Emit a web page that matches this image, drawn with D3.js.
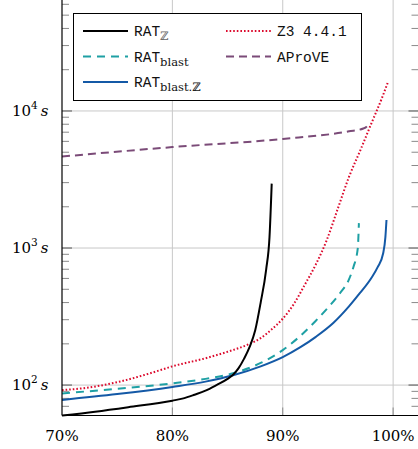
<!DOCTYPE html>
<html>
<head>
<meta charset="utf-8">
<script src="https://cdn.jsdelivr.net/npm/d3@7"></script>
<style>
  body { margin: 0; background: #fff; }
  svg { display: block; }
  .serif { font-family: "DejaVu Serif", "Liberation Serif", serif; }
  .mono { font-family: "Liberation Mono", "DejaVu Sans Mono", monospace; }
</style>
</head>
<body>
<svg width="418" height="449"></svg>
<script>
// data: solved share (%) vs. time (s)
const ratZ_x = [70, 73, 76, 80, 81, 82, 83, 84, 85, 85.5, 86, 86.5, 87, 87.5, 88, 88.5, 88.8, 89.0];
const ratZ_y = [60, 64, 69, 77, 80, 85, 91, 100, 111, 119, 133, 156, 190, 250, 400, 700, 1200, 2950];

const blast_x = [70, 75, 80, 83, 85.5, 88, 90, 91.5, 93, 94, 95.2, 96, 96.4, 96.8, 96.9];
const blast_y = [87, 94, 103, 111, 122, 145, 180, 225, 295, 360, 470, 590, 725, 1000, 1520];

const blastZ_x = [70, 75, 80, 83, 85.5, 88, 90, 91.6, 93, 94.6, 96, 97, 98, 98.6, 99.1, 99.3, 99.4];
const blastZ_y = [78, 86, 97, 106, 118, 137, 160, 189, 225, 285, 375, 470, 600, 725, 915, 1200, 1600];

const z3_x = [70, 72, 75, 78, 80, 83, 85, 87, 88, 89, 90, 91, 92, 93, 94, 95, 96, 97, 98, 99, 99.5];
const z3_y = [92, 95, 105, 122, 137, 157, 175, 200, 220, 255, 305, 390, 540, 760, 1150, 1950, 3300, 5100, 8000, 12500, 16000];

const aprove_x = [70, 80, 90, 96, 97.3, 97.6, 97.8];
const aprove_y = [4650, 5450, 6250, 7100, 7450, 7700, 8200];

const xTicks = [70, 80, 90, 100];
const yTicks = [100, 1000, 10000];

const svg = d3.select("svg");
const pLeft = 62, pRight = 418.5, pTop = 0, pBottom = 415.5;

const x = d3.scaleLinear().domain([70, 102.3]).range([pLeft, pRight]);
const y = d3.scaleLog().domain([60, 64500]).range([pBottom, pTop]);

// grid
svg.append("g").selectAll("line").data(xTicks.slice(1))
  .join("line")
  .attr("x1", d => x(d)).attr("x2", d => x(d))
  .attr("y1", pTop).attr("y2", pBottom)
  .attr("stroke", "#c8c8c8").attr("stroke-width", 1);
svg.append("g").selectAll("line").data(yTicks)
  .join("line")
  .attr("x1", pLeft).attr("x2", pRight)
  .attr("y1", d => y(d)).attr("y2", d => y(d))
  .attr("stroke", "#c8c8c8").attr("stroke-width", 1);

// minor ticks on log axis (left and right, pointing inward)
const minor = [];
for (let e = 1; e <= 4; e++) {
  for (let m = 2; m <= 9; m++) {
    const v = m * Math.pow(10, e);
    if (v > 60 && v < 64500) minor.push(v);
  }
}
const tickG = svg.append("g").attr("stroke", "#8a8a8a").attr("stroke-width", 1);
tickG.selectAll(".ml").data(minor).join("line")
  .attr("x1", pLeft).attr("x2", pLeft + 7)
  .attr("y1", d => y(d)).attr("y2", d => y(d));
tickG.selectAll(".mr").data(minor).join("line")
  .attr("x1", pRight).attr("x2", pRight - 7)
  .attr("y1", d => y(d)).attr("y2", d => y(d));
tickG.selectAll(".jl").data(yTicks).join("line")
  .attr("x1", pLeft).attr("x2", pLeft + 10)
  .attr("y1", d => y(d)).attr("y2", d => y(d))
  .attr("stroke-width", 1.6);
tickG.selectAll(".jr").data(yTicks).join("line")
  .attr("x1", pRight).attr("x2", pRight - 10)
  .attr("y1", d => y(d)).attr("y2", d => y(d))
  .attr("stroke-width", 1.6);
tickG.selectAll(".xb").data(xTicks.slice(1)).join("line")
  .attr("x1", d => x(d)).attr("x2", d => x(d))
  .attr("y1", pBottom).attr("y2", pBottom - 8);

// series
const series = [
  { xs: aprove_x, ys: aprove_y, color: "#7b4b78", width: 2, dash: "8,5" },
  { xs: z3_x, ys: z3_y, color: "#dc0a2d", width: 2, dash: "1.6,2" },
  { xs: blast_x, ys: blast_y, color: "#1ea0a4", width: 2, dash: "8,6" },
  { xs: blastZ_x, ys: blastZ_y, color: "#1459a6", width: 2, dash: null },
  { xs: ratZ_x, ys: ratZ_y, color: "#000000", width: 2, dash: null }
];
const line = d3.line()
  .x(d => x(d[0])).y(d => y(d[1]))
  .curve(d3.curveMonotoneX);
series.forEach(s => {
  svg.append("path")
    .datum(s.xs.map((v, i) => [v, s.ys[i]]))
    .attr("d", line)
    .attr("fill", "none")
    .attr("stroke", s.color)
    .attr("stroke-width", s.width)
    .attr("stroke-dasharray", s.dash);
});

// axis lines
svg.append("line").attr("x1", pLeft).attr("x2", pLeft).attr("y1", pTop).attr("y2", pBottom)
  .attr("stroke", "#000").attr("stroke-width", 1.2);
svg.append("line").attr("x1", pLeft).attr("x2", pRight).attr("y1", pBottom).attr("y2", pBottom)
  .attr("stroke", "#000").attr("stroke-width", 1.2);

// tick labels
svg.append("g").selectAll("text").data(xTicks).join("text")
  .attr("class", "serif")
  .attr("x", d => x(d)).attr("y", 441)
  .attr("text-anchor", "middle")
  .attr("font-size", 15)
  .text(d => d + "%");

const yl = svg.append("g").selectAll("text").data(yTicks).join("text")
  .attr("class", "serif")
  .attr("x", 12).attr("y", d => y(d) + 5)
  .attr("font-size", 15);
yl.append("tspan").text("10");
yl.append("tspan").attr("dy", -7).attr("font-size", 10.5).text(d => Math.round(Math.log10(d)));
yl.append("tspan").attr("dy", 7).attr("dx", 3).attr("font-style", "italic").text("s");

// legend
const lg = svg.append("g");
lg.append("rect").attr("x", 73.5).attr("y", 13.5).attr("width", 288).attr("height", 87)
  .attr("fill", "#fff").attr("stroke", "#000").attr("stroke-width", 1);
const legendItems = [
  { s: series[4], name: "RAT", sub: "\u2124", col: 0, row: 0 },
  { s: series[2], name: "RAT", sub: "blast", col: 0, row: 1 },
  { s: series[3], name: "RAT", sub: "blast.\u2124", col: 0, row: 2 },
  { s: series[1], name: "Z3 4.4.1", sub: null, col: 1, row: 0 },
  { s: series[0], name: "AProVE", sub: null, col: 1, row: 1 }
];
legendItems.forEach(it => {
  const lx = it.col === 0 ? 83 : 226;
  const ly = 31 + it.row * 25.5;
  lg.append("line").attr("x1", lx).attr("x2", lx + 45).attr("y1", ly).attr("y2", ly)
    .attr("stroke", it.s.color).attr("stroke-width", it.s.width)
    .attr("stroke-dasharray", it.s.dash);
  const t = lg.append("text").attr("class", "mono").attr("x", lx + 51).attr("y", ly + 5)
    .attr("font-size", 14.5).attr("fill", "#111");
  t.append("tspan").text(it.name);
  if (it.sub) {
    t.append("tspan").attr("class", "serif").attr("dy", 4).attr("font-size", 11.5)
      .attr("fill", it.sub === "\u2124" ? "#666" : "#111").text(it.sub);
  }
});
</script>
</body>
</html>
